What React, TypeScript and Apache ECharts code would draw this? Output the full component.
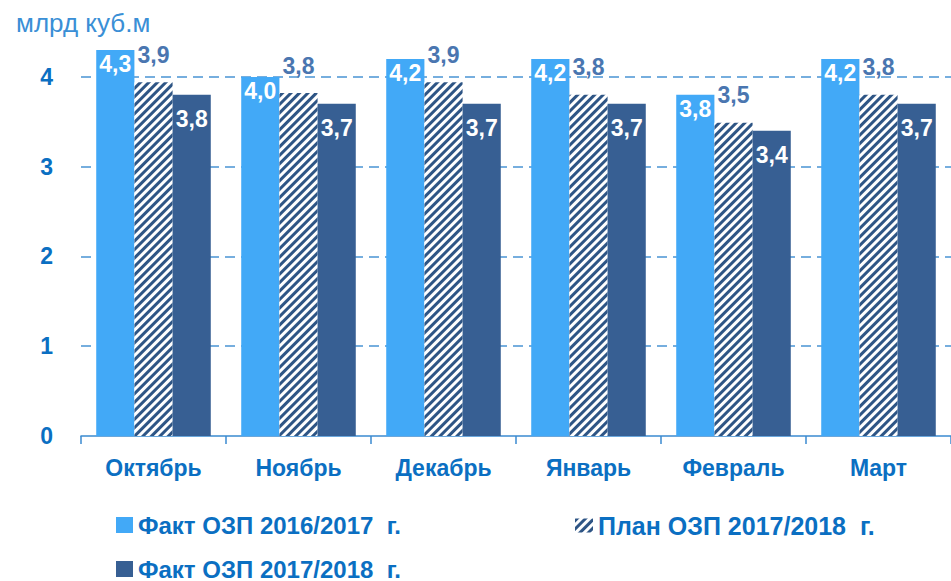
import React, { useEffect, useRef } from "react";
import * as echarts from "echarts";

const categories = ["Октябрь", "Ноябрь", "Декабрь", "Январь", "Февраль", "Март"];
const fact1617 = [4.3, 4.0, 4.2, 4.2, 3.8, 4.2];
const plan1718 = [3.94, 3.82, 3.94, 3.8, 3.49, 3.8];
const fact1718 = [3.8, 3.7, 3.7, 3.7, 3.4, 3.7];
const yTicks = [0, 1, 2, 3, 4];
const seriesNames = ["Факт ОЗП 2016/2017  г.", "План ОЗП 2017/2018  г.", "Факт ОЗП 2017/2018  г."];
const unitLabel = "млрд куб.м";

const FONT = "'Liberation Sans', Arial, sans-serif";
const BLUE = "#0b6fc2";
const fmt = (p: any) => Number(p.value).toFixed(1).replace(".", ",");

export default function App() {
  const ref = useRef<HTMLDivElement>(null);
  useEffect(() => {
    if (!ref.current) return;
    const chart = echarts.init(ref.current, null, { renderer: "svg" });
    const legendText = { fontSize: 24, fontWeight: "bold", color: BLUE, fontFamily: FONT };
    chart.setOption({
      animation: false,
      title: {
        text: unitLabel,
        left: 11,
        top: 5,
        textStyle: { fontSize: 26, fontWeight: "normal", color: "#3a8fd6", fontFamily: FONT },
      },
      legend: [
        { data: [seriesNames[0]], left: 116, top: 513, padding: 0, itemWidth: 17, itemHeight: 16, textStyle: legendText, icon: "rect" },
        { data: [seriesNames[1]], left: 575, top: 513, padding: 0, itemWidth: 18, itemHeight: 14, textStyle: { ...legendText, fontSize: 25 }, icon: "rect" },
        { data: [seriesNames[2]], left: 116, top: 557, padding: 0, itemWidth: 17, itemHeight: 16, textStyle: legendText, icon: "rect" },
      ],
      grid: { left: 81, right: 0, top: 32, bottom: 145, containLabel: false },
      xAxis: {
        type: "category",
        data: categories,
        axisLine: { show: true, lineStyle: { color: "#3a8ad0", width: 1.5 } },
        axisTick: { show: true, length: 8, lineStyle: { color: "#3a8ad0", width: 1.5 } },
        axisLabel: { fontSize: 23, fontWeight: "bold", color: BLUE, fontFamily: FONT, margin: 20 },
      },
      yAxis: {
        type: "value",
        min: 0,
        max: 4.5,
        interval: 1,
        axisLine: { show: false },
        axisTick: { show: false },
        axisLabel: {
          fontSize: 23,
          fontWeight: "bold",
          color: BLUE,
          fontFamily: FONT,
          margin: 28,
          showMaxLabel: false,
          formatter: (v: number) => (yTicks.includes(v) ? String(v) : ""),
        },
        splitLine: { show: true, showMaxLine: false, showMinLine: false, lineStyle: { color: "#4a94d4", type: [10, 6], width: 1.5 } },
      },
      series: [
        {
          name: seriesNames[0],
          type: "bar",
          data: fact1617,
          barGap: "0%",
          barCategoryGap: "21%",
          itemStyle: { color: "#42a9f7" },
          label: { show: true, position: "insideTop", distance: 3, formatter: fmt, color: "#fff", fontSize: 23, fontWeight: "bold", fontFamily: FONT },
        },
        {
          name: seriesNames[1],
          type: "bar",
          data: plan1718,
          barGap: "0%",
          barCategoryGap: "21%",
          itemStyle: {
            color: "#ffffff",
            decal: { symbol: "rect", symbolSize: 1, dashArrayX: [1, 0], dashArrayY: [2.5, 2.5], rotation: -Math.PI / 4, color: "#2e5585" },
          },
          label: { show: true, position: "top", distance: 16, formatter: fmt, color: "#4a76b0", fontSize: 23, fontWeight: "bold", fontFamily: FONT },
        },
        {
          name: seriesNames[2],
          type: "bar",
          data: fact1718,
          barGap: "0%",
          barCategoryGap: "21%",
          itemStyle: { color: "#375f93" },
          label: { show: true, position: "insideTop", distance: 13, formatter: fmt, color: "#fff", fontSize: 23, fontWeight: "bold", fontFamily: FONT },
        },
      ],
    });
    return () => chart.dispose();
  }, []);
  return <div ref={ref} style={{ width: 951, height: 581, position: "absolute", left: 0, top: 0, background: "#fff" }} />;
}
